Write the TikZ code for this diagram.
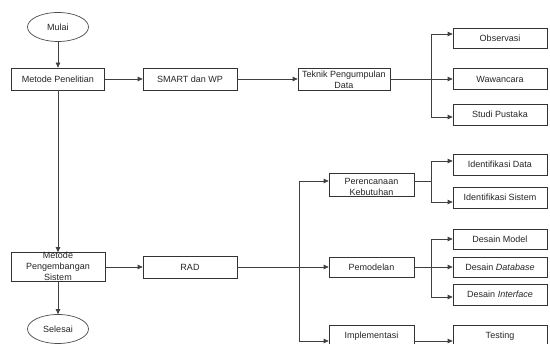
\documentclass[tikz,border=0pt]{standalone}
\usepackage{fontspec}
\setmainfont{Liberation Sans}
\usetikzlibrary{arrows.meta,shapes.geometric}
\begin{document}
\begin{tikzpicture}[x=1pt,y=-1pt,
  every node/.style={font=\fontsize{9}{11}\selectfont, text=black!85},
  box/.style={draw=black!80, line width=0.7pt, fill=white, inner sep=0pt, minimum width=94pt, minimum height=21pt},
  mbox/.style={box, minimum width=85pt},
  oval/.style={draw=black!70, line width=0.7pt, ellipse, fill=white, inner sep=0pt, minimum width=61pt, minimum height=29pt},
  txt/.style={inner sep=0pt, align=center},
  ln/.style={draw=black!75, line width=0.7pt},
  arr/.style={ln, -{Triangle[length=5pt,width=4.5pt]}}]
\clip (0,0) rectangle (550,344);
\fill[white] (0,0) rectangle (550,344);
% left column
\node[oval] (mulai) at (58,27) {Mulai};
\node[box, minimum width=93pt, minimum height=22pt] (mp) at (58,79) {Metode Penelitian};
\node[box, minimum height=29pt] (mps) at (58,267) {};
\node[txt] (mpst) at ([yshift=1pt]mps.center) {Metode\\Pengembangan\\Sistem};
\node[oval] (selesai) at (58,329) {Selesai};
% second column
\node[box, minimum height=22pt] (smart) at (190,79) {SMART dan WP};
\node[box, minimum height=22pt] (rad) at (190,267) {RAD};
% third column
\node[box, minimum width=92pt, minimum height=22pt] (teknik) at (344,79) {};
\node[txt] (teknikt) at ([yshift=-0.5pt]teknik.center) {Teknik Pengumpulan\\Data};
\node[mbox, minimum height=23pt] (pk) at (371.5,184.5) {};
\node[txt] (pkt) at ([yshift=-2pt]pk.center) {Perencanaan\\Kebutuhan};
\node[mbox, minimum height=20pt] (pem) at (371.5,267) {Pemodelan};
\node[mbox, minimum height=22pt] (imp) at (371.5,336) {Implementasi};
% right column
\node[box, minimum height=20pt] (obs) at (500,38) {Observasi};
\node[box] (waw) at (500,79) {Wawancara};
\node[box] (studi) at (500,114.5) {Studi Pustaka};
\node[box] (idd) at (500,164.5) {Identifikasi Data};
\node[box] (ids) at (500,197.5) {Identifikasi Sistem};
\node[box, minimum height=20pt] (dm) at (500,239) {Desain Model};
\node[box, minimum height=20pt] (ddb) at (500,267) {Desain \textit{Database}};
\node[box] (di) at (500,294.5) {Desain \textit{Interface}};
\node[box, minimum height=22pt] (test) at (500,336) {Testing};
% branch coordinates
\coordinate (bx1) at (431,0);
\coordinate (bx2) at (299,0);
\coordinate (pkout) at ([yshift=3.5pt]pk.east);
% connectors
\draw[arr] (mulai.south) -- (mp.north);
\draw[arr] (mp.east) -- (smart.west);
\draw[arr] (smart.east) -- (teknik.west);
\draw[arr] (mp.south) -- (mps.north);
\draw[arr] (mps.south) -- (selesai.north);
\draw[arr] (mps.east) -- (rad.west);
\draw[arr] (teknik.east) -- (waw.west);
\draw[arr] (bx1 |- teknik.east) |- ([yshift=4pt]obs.west);
\draw[arr] (bx1 |- teknik.east) |- ([yshift=-2.5pt]studi.west);
\draw[ln] (rad.east) -- (bx2 |- rad.east);
\draw[arr] (bx2 |- rad.east) -- (pem.west);
\draw[arr] (bx2 |- rad.east) |- ([yshift=3.5pt]pk.west);
\draw[arr] (bx2 |- rad.east) |- ([yshift=-5pt]imp.west);
\draw[ln] (pkout) -- (bx1 |- pkout);
\draw[arr] (bx1 |- pkout) |- ([yshift=3.5pt]idd.west);
\draw[arr] (bx1 |- pkout) |- ([yshift=-4.5pt]ids.west);
\draw[arr] (pem.east) -- (ddb.west);
\draw[arr] (bx1 |- pem.east) |- (dm.west);
\draw[arr] (bx1 |- pem.east) |- ([yshift=-2.5pt]di.west);
\draw[arr] ([yshift=-5pt]imp.east) -- ([yshift=-5pt]test.west);
\end{tikzpicture}
\end{document}
